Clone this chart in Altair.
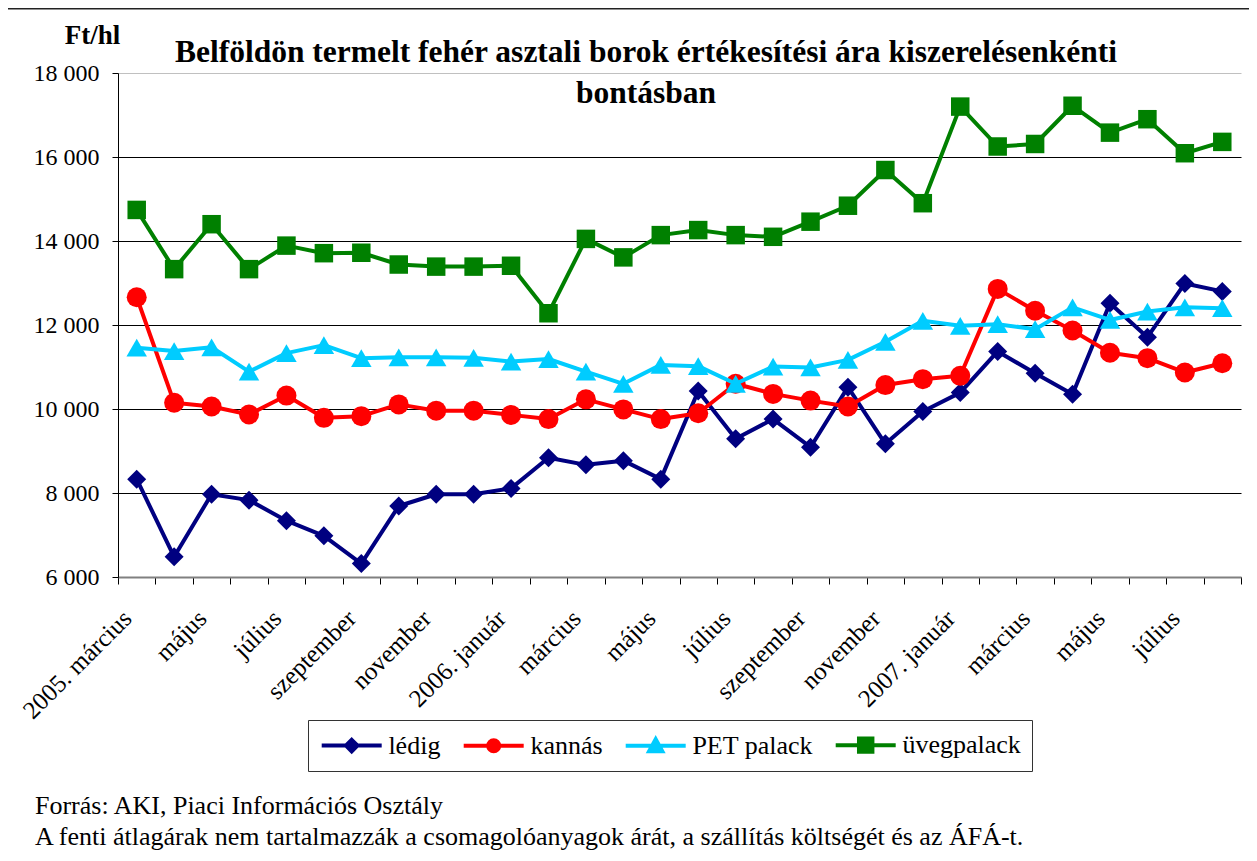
import json
import altair as alt
import pandas as pd

# ---------------- data ----------------
months = ["2005. március", "április", "május", "június", "július", "augusztus",
          "szeptember", "október", "november", "december",
          "2006. január", "február", "március", "április", "május", "június",
          "július", "augusztus", "szeptember", "október", "november", "december",
          "2007. január", "február", "március", "április", "május", "június",
          "július", "augusztus"]

series_names = ["lédig", "kannás", "PET palack", "üvegpalack"]
series_colors = ["#000080", "#FF0000", "#00CCFF", "#008000"]

ledig = [8330, 6480, 7970, 7830, 7340, 6980, 6320, 7690, 7970, 7970,
         8110, 8840, 8670, 8770, 8330, 10430, 9290, 9760, 9090, 10520,
         9170, 9940, 10390, 11370, 10850, 10350, 12520, 11710, 12990, 12800]
kannas = [12660, 10150, 10060, 9870, 10320, 9790, 9830, 10110, 9960, 9960,
          9860, 9760, 10230, 9990, 9760, 9900, 10600, 10360, 10200, 10060,
          10570, 10710, 10790, 12860, 12340, 11870, 11340, 11210, 10870, 11090]
pet = [11460, 11380, 11470, 10890, 11330, 11520, 11210, 11230, 11230, 11220,
       11130, 11190, 10890, 10600, 11050, 11020, 10600, 11010, 10990, 11170,
       11600, 12100, 11980, 12020, 11900, 12420, 12120, 12320, 12420, 12400]
uveg = [14740, 13330, 14400, 13330, 13890, 13710, 13720, 13440, 13390, 13390,
        13410, 12280, 14050, 13610, 14140, 14260, 14140, 14100, 14460, 14840,
        15690, 14900, 17200, 16250, 16310, 17220, 16580, 16900, 16090, 16360]

y_ticks = [6000, 8000, 10000, 12000, 14000, 16000, 18000]

title_lines = ["Belföldön termelt fehér asztali borok értékesítési ára kiszerelésenkénti",
               "bontásban"]
note_lines = ["Forrás: AKI, Piaci Információs Osztály",
              "A fenti átlagárak nem tartalmazzák a csomagolóanyagok árát, a szállítás költségét és az ÁFÁ-t."]

# ---------------- table ----------------
rows = []
for name, vals in zip(series_names, [ledig, kannas, pet, uveg]):
    for i, v in enumerate(vals):
        rows.append({"idx": i, "series": name, "value": v})
df = pd.DataFrame(rows)

SERIF = "Liberation Serif"
n = len(months)
tick_vals = [i - 0.5 for i in range(n + 1)]
names_js = json.dumps(months, ensure_ascii=False)
x_label_expr = (f"((datum.value + 0.5) % 2 == 0 && datum.value < {n - 1}) "
                f"? {names_js}[datum.value + 0.5] : ''")

x_enc = alt.X(
    "idx:Q",
    scale=alt.Scale(domain=[-0.5, n - 0.5], nice=False, zero=False),
    axis=alt.Axis(values=tick_vals, labelExpr=x_label_expr, labelAngle=-45,
                  labelAlign="right", labelBaseline="middle", labelOffset=9,
                  labelPadding=30, labelFont=SERIF, labelFontSize=25,
                  labelColor="black", labelOverlap=False, labelFlush=False,
                  labelBound=False, ticks=True, tickSize=7, tickColor="black",
                  tickWidth=1, domainColor="#808080", domainWidth=2,
                  grid=False, title=None),
)
y_enc = alt.Y(
    "value:Q",
    scale=alt.Scale(domain=[6000, 18000], nice=False, zero=False),
    axis=alt.Axis(values=y_ticks,
                  labelExpr="replace(format(datum.value, ','), ',', ' ')",
                  labelFont=SERIF, labelFontSize=24, labelColor="black",
                  labelPadding=13, tickSize=6, tickColor="black", tickWidth=1,
                  domainColor="black", domainWidth=1,
                  grid=True,
                  gridColor={"condition": {"test": "datum.value >= 18000", "value": "#c0c0c0"},
                             "value": "black"},
                  gridWidth=1,
                  title="Ft/hl", titleAngle=0, titleX=-26, titleY=-30,
                  titleAlign="center", titleBaseline="alphabetic",
                  titleFont=SERIF, titleFontSize=27, titleFontWeight="bold",
                  titleColor="black"),
)

leg = alt.Legend(title=None, orient="none", legendX=190, legendY=647,
                 direction="horizontal", labelFont=SERIF, labelFontSize=26,
                 labelColor="black", symbolSize=576, symbolStrokeWidth=4,
                 symbolOffset=18.7, labelOffset=22.7, padding=11,
                 columnPadding=14, strokeColor="#333333", fillColor="white",
                 symbolOpacity=1)

color_enc = alt.Color("series:N", scale=alt.Scale(domain=series_names, range=series_colors),
                      legend=leg)

legend_paths = [
    "M-2.5,0L2.5,0M0,-0.48L0.48,0L0,0.48L-0.48,0Z",
    "M-2.5,0L2.5,0M-0.46,0A0.46,0.46,0,1,1,0.46,0A0.46,0.46,0,1,1,-0.46,0Z",
    "M-2.5,0L2.5,0M0,-0.55L0.55,0.45L-0.55,0.45Z",
    "M-2.5,0L2.5,0M-0.56,-0.56L0.56,-0.56L0.56,0.56L-0.56,0.56Z",
]

base = alt.Chart(df)

legend_layer = base.transform_filter("false").mark_point(filled=True, opacity=1).encode(
    x=x_enc, y=y_enc, color=color_enc,
    stroke=alt.Stroke("series:N", scale=alt.Scale(domain=series_names, range=series_colors),
                      legend=leg),
    shape=alt.Shape("series:N", scale=alt.Scale(domain=series_names, range=legend_paths),
                    legend=leg),
)

marker_shapes = ["diamond", "circle", "triangle-up", "square"]
marker_sizes = [361, 400, 420, 342]

layers = [legend_layer]
for name, shp, sz in zip(series_names, marker_shapes, marker_sizes):
    sub = base.transform_filter(alt.datum.series == name)
    layers.append(sub.mark_line(strokeWidth=4, strokeJoin="round").encode(
        x=x_enc, y=y_enc, color=color_enc))
    layers.append(sub.mark_point(shape=shp, filled=True, size=sz, opacity=1).encode(
        x=x_enc, y=y_enc, color=color_enc))

title_layer = alt.Chart(pd.DataFrame({"t": [0]})).mark_text(
    font=SERIF, fontSize=31.5, fontWeight="bold", color="black", align="center",
    baseline="alphabetic", lineHeight=40.5,
).encode(x=alt.value(528), y=alt.value(-11), text=alt.value(title_lines))

note_layer = alt.Chart(pd.DataFrame({"t": [0]})).mark_text(
    font=SERIF, fontSize=26, color="black", align="left",
    baseline="alphabetic", lineHeight=31,
).encode(x=alt.value(-83), y=alt.value(741), text=alt.value(note_lines))

border_layer = alt.Chart(pd.DataFrame({"t": [0]})).mark_rect(
    fillOpacity=0, stroke="#222222", strokeWidth=2,
).encode(x=alt.value(-111), x2=alt.value(1250), y=alt.value(-64.5), y2=alt.value(900))

chart = alt.layer(border_layer, *layers, title_layer, note_layer).properties(
    width=1123, height=504,
    padding={"left": 110, "top": 65, "right": 8, "bottom": 276},
    autosize=alt.AutoSizeParams(type="none"),
    background="white",
).configure_view(stroke=None)

chart.save("out.html", embed_options={"renderer": "svg", "actions": False})
